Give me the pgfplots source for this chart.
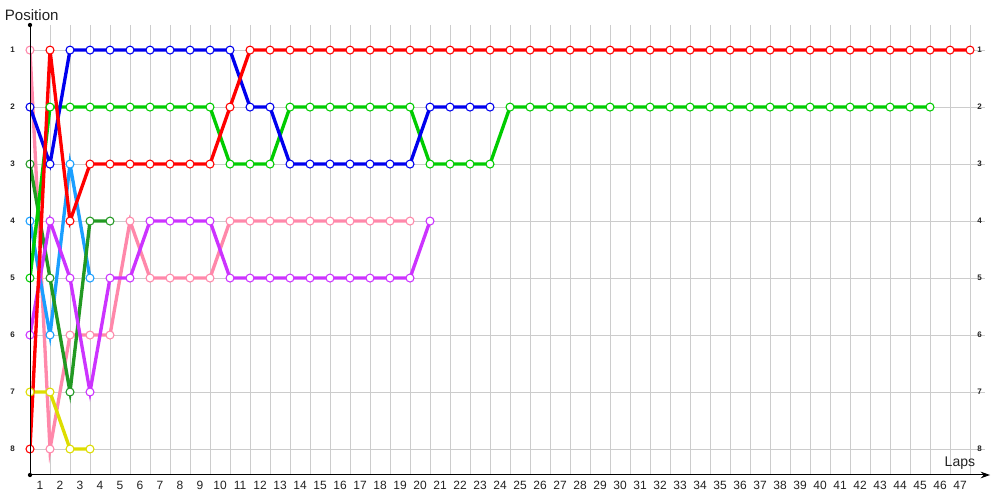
\documentclass[border=0pt]{standalone}
\usepackage{fontspec}
\setmainfont{Liberation Sans}
\usepackage{pgfplots}
\pgfplotsset{compat=1.18}
\usetikzlibrary{arrows.meta}
\definecolor{cRed}{HTML}{FF0000}
\definecolor{cBlue}{HTML}{0000EE}
\definecolor{cGreen}{HTML}{00CC00}
\definecolor{cDkGreen}{HTML}{229922}
\definecolor{cLtBlue}{HTML}{1A9FFF}
\definecolor{cPurple}{HTML}{CC33FF}
\definecolor{cPink}{HTML}{FF88AA}
\definecolor{cYellow}{HTML}{DDDD00}
\definecolor{cText}{HTML}{222222}
\pgfplotsset{
  drv/.style={color=#1, line width=2.5pt, mark=*, mark size=3pt,
    mark options={fill=white, draw=#1, line width=0.8pt, solid}},
  base/.style={scale only axis, width=716.25pt, height=337.5pt,
    at={(22.5pt,18.75pt)}, anchor=south west,
    xmin=0, xmax=47.75, ymin=0.56, ymax=8.456, y dir=reverse,
    axis line style={draw=none}, major tick length=0pt,
    ytick={1,...,8},
    tick label style={text=cText},
    /pgf/number format/assume math mode=true},
}
\begin{document}
\begin{tikzpicture}
\useasboundingbox (0,0) rectangle (750pt,375pt);
\begin{axis}[base,
  xtick={1,...,47},
  grid=major, grid style={color=gray!40, line width=0.75pt},
  xticklabel style={font=\fontsize{9}{10}\selectfont, xshift=-7.5pt, yshift=-1pt},
  yticklabel style={font=\bfseries\fontsize{6}{7}\selectfont, anchor=center, xshift=-13pt},
]
\addplot[drv=cPink] coordinates {(0,1)(1,8)(2,6)(3,6)(4,6)(5,4)(6,5)(7,5)(8,5)(9,5)(10,4)(11,4)(12,4)(13,4)(14,4)(15,4)(16,4)(17,4)(18,4)(19,4)};
\addplot[drv=cYellow] coordinates {(0,7)(1,7)(2,8)(3,8)};
\addplot[drv=cLtBlue] coordinates {(0,4)(1,6)(2,3)(3,5)};
\addplot[drv=cDkGreen] coordinates {(0,3)(1,5)(2,7)(3,4)(4,4)};
\addplot[drv=cPurple] coordinates {(0,6)(1,4)(2,5)(3,7)(4,5)(5,5)(6,4)(7,4)(8,4)(9,4)(10,5)(11,5)(12,5)(13,5)(14,5)(15,5)(16,5)(17,5)(18,5)(19,5)(20,4)};
\addplot[drv=cGreen] coordinates {(0,5)(1,2)(2,2)(3,2)(4,2)(5,2)(6,2)(7,2)(8,2)(9,2)(10,3)(11,3)(12,3)(13,2)(14,2)(15,2)(16,2)(17,2)(18,2)(19,2)(20,3)(21,3)(22,3)(23,3)(24,2)(25,2)(26,2)(27,2)(28,2)(29,2)(30,2)(31,2)(32,2)(33,2)(34,2)(35,2)(36,2)(37,2)(38,2)(39,2)(40,2)(41,2)(42,2)(43,2)(44,2)(45,2)};
\addplot[drv=cBlue] coordinates {(0,2)(1,3)(2,1)(3,1)(4,1)(5,1)(6,1)(7,1)(8,1)(9,1)(10,1)(11,2)(12,2)(13,3)(14,3)(15,3)(16,3)(17,3)(18,3)(19,3)(20,2)(21,2)(22,2)(23,2)};
\addplot[drv=cRed] coordinates {(0,8)(1,1)(2,4)(3,3)(4,3)(5,3)(6,3)(7,3)(8,3)(9,3)(10,2)(11,1)(12,1)(13,1)(14,1)(15,1)(16,1)(17,1)(18,1)(19,1)(20,1)(21,1)(22,1)(23,1)(24,1)(25,1)(26,1)(27,1)(28,1)(29,1)(30,1)(31,1)(32,1)(33,1)(34,1)(35,1)(36,1)(37,1)(38,1)(39,1)(40,1)(41,1)(42,1)(43,1)(44,1)(45,1)(46,1)(47,1)};
\end{axis}
\begin{axis}[base, xtick=\empty, yticklabel pos=right,
  yticklabel style={font=\bfseries\fontsize{6}{7}\selectfont, anchor=center, xshift=-4pt},
]
\end{axis}
\draw[black, line width=0.75pt] (22.5pt,18.75pt) -- (22.5pt,356.25pt);
\fill[black] (22.5pt,356.25pt) circle (1.6pt);
\fill[black] (22.5pt,18.75pt) circle (1.6pt);
\draw[black, line width=0.75pt, -{Stealth[length=7pt,width=5pt]}] (22.5pt,18.75pt) -- (742.5pt,18.75pt);
\node[anchor=west, text=cText, font=\fontsize{11.3}{12}\selectfont, inner sep=0pt] at (3.5pt,363.5pt) {Position};
\node[anchor=east, text=cText, font=\fontsize{10.5}{12}\selectfont, inner sep=0pt] at (731.5pt,27.5pt) {Laps};
\end{tikzpicture}
\end{document}
